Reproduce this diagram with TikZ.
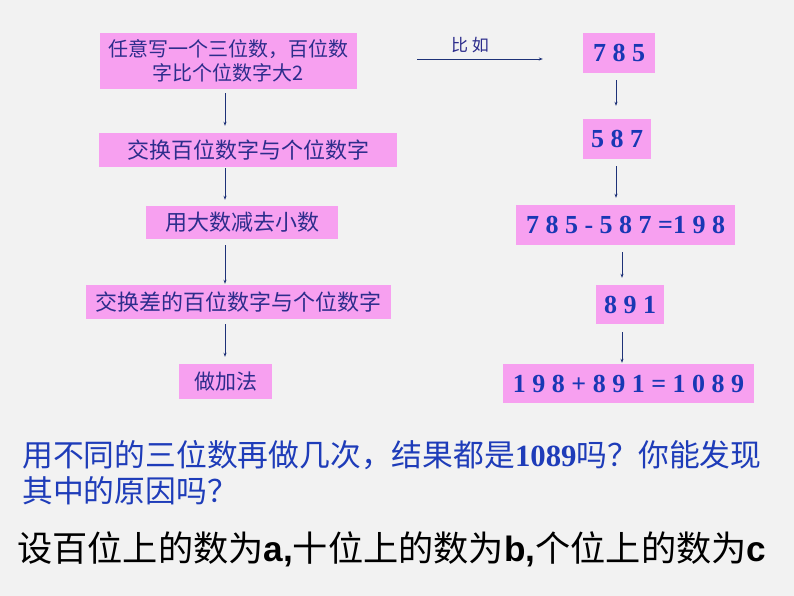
\documentclass[tikz,border=0pt]{standalone}
\usepackage{fontspec}
\setmainfont{Liberation Serif}
\newfontfamily\cjk{Noto Sans CJK SC}
\newfontfamily\numfont{Liberation Serif}
\newfontfamily\arial{Liberation Sans}
\usetikzlibrary{arrows.meta}
\definecolor{pinkfill}{RGB}{247,160,240}
\definecolor{boxtext}{RGB}{45,45,140}
\definecolor{numblue}{RGB}{25,55,180}
\definecolor{qblue}{RGB}{30,60,185}
\definecolor{arrowcol}{RGB}{30,50,120}
\definecolor{bgcol}{RGB}{242,242,242}
\tikzset{
  stepbox/.style={fill=pinkfill, draw=none, inner sep=0pt, align=center, text=boxtext,
    font=\cjk\fontsize{22}{26}\selectfont},
  numbox/.style={fill=pinkfill, draw=none, inner sep=0pt, align=center, text=numblue,
    font=\numfont\bfseries\fontsize{26}{30}\selectfont},
  arr/.style={draw=arrowcol, line width=0.8pt, -{Stealth[length=4pt,width=3pt]}},
}
\begin{document}
\begin{tikzpicture}[x=1pt,y=-1pt]
\fill[bgcol] (0,0) rectangle (794,596);
\useasboundingbox (0,0) rectangle (794,596);
% left column
\node[stepbox, minimum width=257pt, minimum height=56pt, font=\cjk\fontsize{20}{24}\selectfont] (b1) at (228.5,61)
  {任意写一个三位数，百位数\\字比个位数字大2};
\node[stepbox, minimum width=298pt, minimum height=34pt] (b2) at (248,150)
  {交换百位数字与个位数字};
\node[stepbox, minimum width=192pt, minimum height=33pt] (b3) at (242,222.5)
  {用大数减去小数};
\node[stepbox, minimum width=305pt, minimum height=34pt] (b4) at (238.5,302)
  {交换差的百位数字与个位数字};
\node[stepbox, minimum width=93pt, minimum height=35pt, font=\cjk\fontsize{21}{25}\selectfont] (b5) at (225.5,381.5)
  {做加法};
\coordinate (lx) at (225,0);
\draw[arr, shorten <=4pt, shorten >=7pt] (b1.south -| lx) -- (b2.north -| lx);
\draw[arr, shorten <=1pt, shorten >=6pt] (b2.south -| lx) -- (b3.north -| lx);
\draw[arr, shorten <=6pt, shorten >=1pt] (b3.south -| lx) -- (b4.north -| lx);
\draw[arr, shorten <=5pt, shorten >=7pt] (b4.south -| lx) -- (b5.north -| lx);
% right column
\node[numbox, minimum width=72pt, minimum height=40pt] (r1) at (619,53) {7 8 5};
\node[numbox, minimum width=68pt, minimum height=40pt] (r2) at (617,139) {5 8 7};
\node[numbox, minimum width=219pt, minimum height=40pt] (r3) at (625.5,225) {7 8 5 - 5 8 7 =1 9 8};
\node[numbox, minimum width=68pt, minimum height=39pt] (r4) at (630,304.5) {8 9 1};
\node[numbox, minimum width=251pt, minimum height=39pt] (r5) at (628.5,383.5) {1 9 8 + 8 9 1 = 1 0 8 9};
\coordinate (rx1) at (616,0);
\coordinate (rx2) at (622,0);
\draw[arr, shorten <=7pt, shorten >=13pt] (r1.south -| rx1) -- (r2.north -| rx1);
\draw[arr, shorten <=7pt, shorten >=7pt] (r2.south -| rx1) -- (r3.north -| rx1);
\draw[arr, shorten <=7pt, shorten >=7pt] (r3.south -| rx2) -- (r4.north -| rx2);
\draw[arr, shorten <=8pt, shorten >=1pt] (r4.south -| rx2) -- (r5.north -| rx2);
% horizontal arrow
\coordinate (hy) at (0,59);
\draw[arr, shorten <=60pt, shorten >=40pt] (b1.east |- hy) -- (r1.west |- hy)
  node[midway, above=6pt, inner sep=0pt, text=boxtext, font=\cjk\fontsize{17}{20}\selectfont] (lbl) {比 如};
% bottom text
\node[anchor=west, inner sep=0pt, text=qblue, font=\cjk\fontsize{30.8}{36}\selectfont] (q1) at (22,455)
  {用不同的三位数再做几次，结果都是{\numfont\bfseries 1089}吗？你能发现};
\node[anchor=west, inner sep=0pt, text=qblue, font=\cjk\fontsize{30.8}{36}\selectfont] (q2) at (22,491)
  {其中的原因吗？};
\node[anchor=west, inner sep=0pt, text=black, font=\cjk\fontsize{35.2}{40}\selectfont] (q3) at (17,549)
  {设百位上的数为{\arial\bfseries a,}十位上的数为{\arial\bfseries b,}个位上的数为{\arial\bfseries c}};
\end{tikzpicture}
\end{document}
